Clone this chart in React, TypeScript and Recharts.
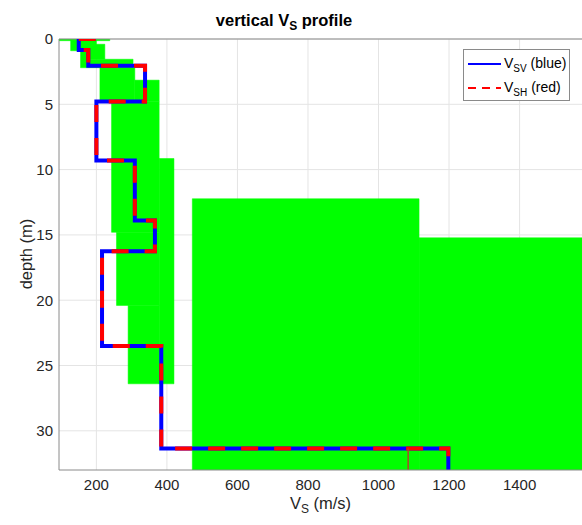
import {
  LineChart,
  Line,
  XAxis,
  YAxis,
  CartesianGrid,
  ReferenceArea,
  ReferenceLine,
  Legend
} from "recharts";

const vsTicks = [200, 400, 600, 800, 1000, 1200, 1400];
const depthTicks = [0, 5, 10, 15, 20, 25, 30];

// step profile (same for V_SV and V_SH)
const profileVs = [198, 150, 150, 177, 177, 338, 338, 200, 200, 309, 309, 366, 366, 216, 216, 384, 384, 1198, 1198];
const profileDepth = [0, 0, 0.85, 0.85, 2.05, 2.05, 4.78, 4.78, 9.3, 9.3, 13.9, 13.9, 16.25, 16.25, 23.5, 23.5, 31.36, 31.36, 33];

// thin marker at the bottom layer
const markerVs = [1084, 1084];
const markerDepth = [31.36, 33];

// green range boxes
const rangeVsMin = [94, 127, 160, 155, 178, 210, 309, 243, 378, 257, 290, 472, 1115];
const rangeVsMax = [238, 200, 224, 178, 304, 309, 378, 378, 420, 378, 378, 1115, 1600];
const rangeTop = [0, 0.1, 0.4, 0.9, 1.55, 2.2, 3.15, 4.8, 9.15, 14.8, 20.4, 12.23, 15.22];
const rangeBottom = [0.13, 0.9, 1.55, 2.2, 2.2, 4.8, 4.8, 14.8, 26.4, 20.4, 26.4, 33, 33];

const profileData = profileVs.map((vs, i) => ({ vs, depth: profileDepth[i] }));
const markerData = markerVs.map((vs, i) => ({ vs, depth: markerDepth[i] }));

const font = "'Liberation Sans', Arial, Helvetica, sans-serif";

function LegendBox() {
  const row = { display: "flex", alignItems: "center", height: 24 };
  return (
    <div
      style={{
        width: 107,
        height: 52,
        boxSizing: "border-box",
        border: "1px solid #8a8a8a",
        background: "#fff",
        fontFamily: font,
        fontSize: 14,
        color: "#000",
        paddingTop: 2
      }}
    >
      <div style={row}>
        <svg width={38} height={10} style={{ marginLeft: 2 }}>
          <line x1={2} y1={5} x2={35} y2={5} stroke="#0000ff" strokeWidth={2} />
        </svg>
        <span>
          V<sub style={{ fontSize: 10 }}>SV</sub> (blue)
        </span>
      </div>
      <div style={row}>
        <svg width={38} height={10} style={{ marginLeft: 2 }}>
          <line x1={2} y1={5} x2={35} y2={5} stroke="#ff0000" strokeWidth={2} strokeDasharray="8 6" />
        </svg>
        <span>
          V<sub style={{ fontSize: 10 }}>SH</sub> (red)
        </span>
      </div>
    </div>
  );
}

export default function App() {
  return (
    <div style={{ position: "absolute", left: 0, top: 0, width: 582, height: 525, background: "#fff" }}>
      <div
        style={{
          position: "absolute",
          left: 0,
          width: 568,
          top: 11,
          textAlign: "center",
          fontFamily: font,
          fontWeight: "bold",
          fontSize: 16.5,
          color: "#000",
          zIndex: 2
        }}
      >
        vertical V<sub style={{ fontSize: 12 }}>S</sub> profile
      </div>
      <LineChart
        width={582}
        height={525}
        layout="vertical"
        margin={{ top: 39, right: 0, left: 0, bottom: 0 }}
      >
        <CartesianGrid stroke="#e4e4e4" horizontalValues={depthTicks} verticalValues={vsTicks} />
        <XAxis
          type="number"
          domain={[94, 1577]}
          ticks={vsTicks}
          allowDataOverflow
          height={55}
          tickLine={false}
          tickSize={0}
          tickMargin={9}
          axisLine={{ stroke: "#8a8a8a" }}
          tick={{ fontSize: 15, fill: "#262626", fontFamily: font }}
        />
        <YAxis
          type="number"
          dataKey="depth"
          domain={[0, 33]}
          ticks={depthTicks}
          allowDataOverflow
          width={59}
          tickLine={false}
          tickSize={0}
          tickMargin={6}
          axisLine={{ stroke: "#8a8a8a" }}
          tick={{ fontSize: 15, fill: "#262626", fontFamily: font }}
        />
        {rangeVsMin.map((v, i) => (
          <ReferenceArea
            key={i}
            x1={v}
            x2={rangeVsMax[i]}
            y1={rangeTop[i]}
            y2={rangeBottom[i]}
            fill="#00ff00"
            fillOpacity={1}
            stroke="#00ff00"
            strokeWidth={0.5}
            ifOverflow="hidden"
          />
        ))}
        <ReferenceLine y={0} stroke="#8a8a8a" />
        <Line
          data={profileData}
          dataKey="vs"
          name="VSV (blue)"
          stroke="#0000ff"
          strokeWidth={4}
          dot={false}
          isAnimationActive={false}
        />
        <Line
          data={profileData}
          dataKey="vs"
          name="VSH (red)"
          stroke="#ff0000"
          strokeWidth={4}
          strokeDasharray="17 16"
          dot={false}
          isAnimationActive={false}
        />
        <Line
          data={markerData}
          dataKey="vs"
          stroke="#b0452a"
          strokeWidth={1.5}
          dot={false}
          legendType="none"
          isAnimationActive={false}
        />
        <Legend
          layout="vertical"
          align="center"
          verticalAlign="middle"
          wrapperStyle={{ left: 463, top: 49, width: 107, height: 52 }}
          content={() => <LegendBox />}
        />
      </LineChart>
      <div
        style={{
          position: "absolute",
          left: 0,
          width: 641,
          top: 494,
          textAlign: "center",
          fontFamily: font,
          fontSize: 16.5,
          color: "#262626"
        }}
      >
        V<sub style={{ fontSize: 12 }}>S</sub> (m/s)
      </div>
      <div
        style={{
          position: "absolute",
          left: 26,
          top: 254,
          transform: "translate(-50%, -50%) rotate(-90deg)",
          fontFamily: font,
          fontSize: 16.5,
          color: "#262626",
          whiteSpace: "nowrap"
        }}
      >
        depth (m)
      </div>
    </div>
  );
}
